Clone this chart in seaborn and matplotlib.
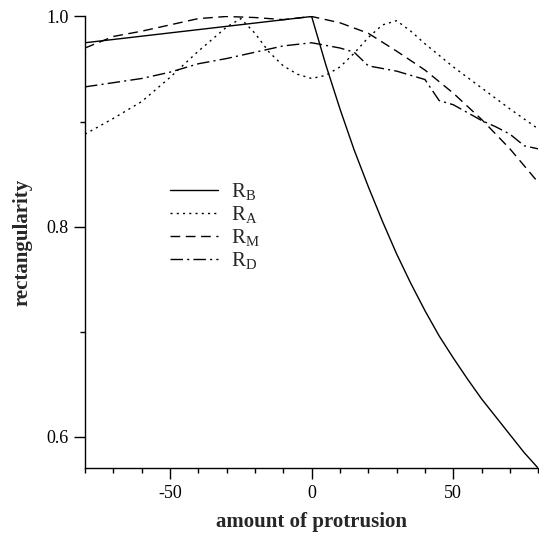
import numpy as np
import pandas as pd
import seaborn as sns
import matplotlib.pyplot as plt
from matplotlib.ticker import MultipleLocator

# Values
rb_x = [-80, 0, 5, 10, 15, 20, 25, 30, 35, 40, 45, 50, 55, 60, 65, 70, 75, 80]
rb_y = [0.975, 1.0, 0.954, 0.912, 0.873, 0.838, 0.805, 0.774, 0.746, 0.720,
        0.696, 0.675, 0.655, 0.636, 0.619, 0.602, 0.585, 0.570]

ra_x = [-80, -70, -60, -50, -40, -30, -25, -20, -15, -10, -5, 0, 5, 10, 15, 20, 25, 30,
        35, 40, 50, 60, 70, 80]
ra_y = [0.888, 0.903, 0.919, 0.942, 0.967, 0.990, 0.998, 0.984, 0.966, 0.953, 0.945,
        0.941, 0.944, 0.952, 0.965, 0.980, 0.992, 0.996, 0.986, 0.974, 0.952, 0.932,
        0.912, 0.893]

rm_x = [-80, -70, -60, -50, -40, -30, -20, -10, 0, 10, 20, 30, 40, 50, 60, 70, 80]
rm_y = [0.970, 0.981, 0.986, 0.992, 0.998, 1.0, 0.999, 0.997, 1.0, 0.994, 0.984,
        0.967, 0.949, 0.927, 0.902, 0.874, 0.842]

rd_x = [-80, -70, -60, -50, -40, -30, -20, -10, 0, 10, 15, 20, 30, 40, 45, 50, 60, 65,
        70, 75, 80]
rd_y = [0.933, 0.937, 0.941, 0.947, 0.955, 0.960, 0.966, 0.972, 0.975, 0.970, 0.966,
        0.953, 0.948, 0.940, 0.920, 0.916, 0.901, 0.895, 0.888, 0.877, 0.874]

names = ['$\\mathrm{R_B}$', '$\\mathrm{R_A}$', '$\\mathrm{R_M}$', '$\\mathrm{R_D}$']

df = pd.concat([
    pd.DataFrame({'protrusion': rb_x, 'rect': rb_y, 'measure': names[0]}),
    pd.DataFrame({'protrusion': ra_x, 'rect': ra_y, 'measure': names[1]}),
    pd.DataFrame({'protrusion': rm_x, 'rect': rm_y, 'measure': names[2]}),
    pd.DataFrame({'protrusion': rd_x, 'rect': rd_y, 'measure': names[3]}),
], ignore_index=True)

sns.set_style('ticks')
plt.rcParams['font.family'] = 'serif'
plt.rcParams['font.serif'] = ['Liberation Serif', 'DejaVu Serif']
plt.rcParams['mathtext.fontset'] = 'custom'
plt.rcParams['mathtext.rm'] = 'Liberation Serif'
plt.rcParams['mathtext.it'] = 'Liberation Serif:italic'
plt.rcParams['mathtext.bf'] = 'Liberation Serif:bold'

fig = plt.figure(figsize=(5.39, 5.37), dpi=100)
ax = fig.add_axes([0.1577, 0.1279, 0.841, 0.8414])

dash_map = {names[0]: '', names[1]: (1.5, 3.0), names[2]: (7, 4), names[3]: (9, 3, 1.5, 3)}
sns.lineplot(data=df, x='protrusion', y='rect', style='measure', style_order=names,
             dashes=dash_map, color='black', linewidth=1.0, errorbar=None,
             estimator=None, sort=False, ax=ax)

ax.set_xlim(-80, 80)
ax.set_ylim(0.57, 1.0)
ax.xaxis.set_major_locator(MultipleLocator(50))
ax.xaxis.set_minor_locator(MultipleLocator(10))
ax.yaxis.set_major_locator(MultipleLocator(0.2))
ax.yaxis.set_minor_locator(MultipleLocator(0.1))
ax.tick_params(which='major', length=8, width=1.0, direction='out', labelsize=13, pad=4,
               color='black', labelcolor='black')
ax.tick_params(which='minor', length=3.5, width=1.0, direction='out', color='black')
ax.xaxis.set_major_formatter(plt.FuncFormatter(lambda v, p: '%d' % v))
ax.yaxis.set_major_formatter(plt.FuncFormatter(lambda v, p: '%.1f' % v))
sns.despine(ax=ax)
for s in ['left', 'bottom']:
    ax.spines[s].set_linewidth(1.0)
    ax.spines[s].set_color('black')

ax.set_xlabel('amount of protrusion', fontsize=15, fontweight='bold', labelpad=7)
ax.set_ylabel('rectangularity', fontsize=15, fontweight='bold', labelpad=10)

handles, labels = ax.get_legend_handles_labels()
leg = ax.legend(handles, labels, loc='upper left', bbox_to_anchor=(0.188, 0.635),
                frameon=False, fontsize=15, handlelength=2.3, handletextpad=0.6,
                labelspacing=0.09, borderpad=0, borderaxespad=0)
for h in leg.get_lines():
    h.set_linewidth(1.0)
    h.set_color('black')

fig.savefig('out.png', dpi=100)
